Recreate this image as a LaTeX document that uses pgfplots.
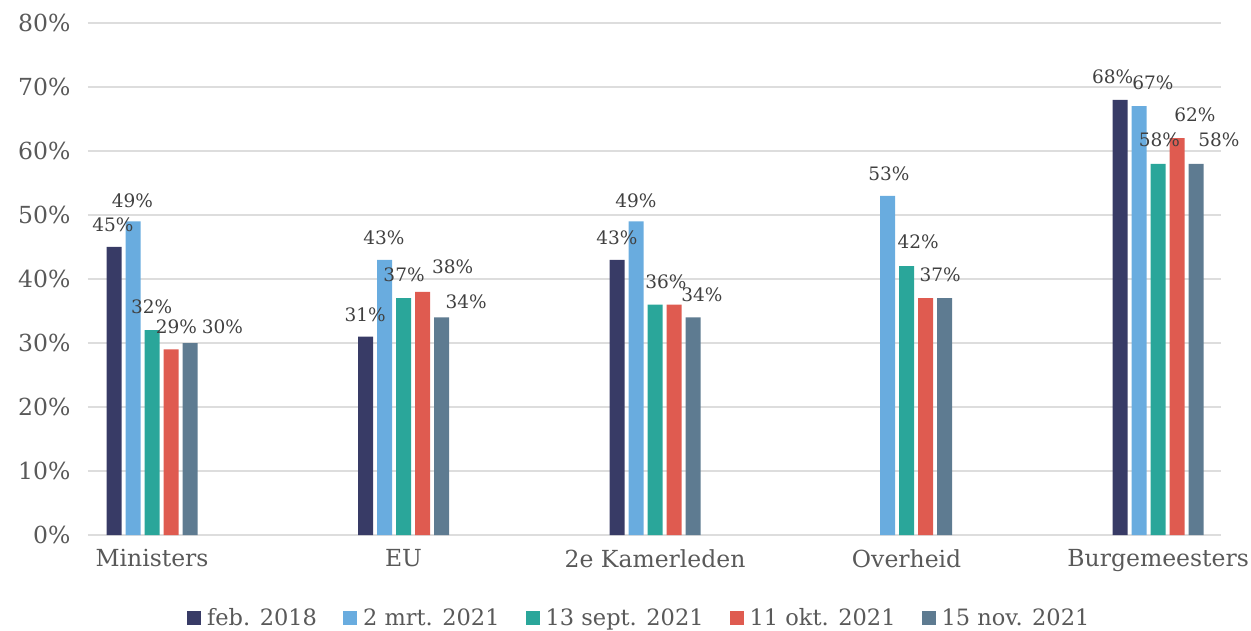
\documentclass[border=0pt]{standalone}
\usepackage{fontspec}
\setmainfont{DejaVu Serif}
\usepackage{pgfplots}
\pgfplotsset{compat=1.18}
\definecolor{cA}{HTML}{383B66}
\definecolor{cB}{HTML}{69ACDF}
\definecolor{cC}{HTML}{2AA69A}
\definecolor{cD}{HTML}{DF5B50}
\definecolor{cE}{HTML}{5E7B91}
\definecolor{gridc}{HTML}{DDDDDD}
\definecolor{txt}{HTML}{595959}
\definecolor{lab}{HTML}{404040}
\begin{document}
\begin{tikzpicture}
\begin{axis}[
  name=ax,
  scale only axis, width=1133bp, height=512bp,
  ybar=4bp, bar width=15bp,
  xmin=-0.2545, xmax=4.25, ymin=0, ymax=80,
  xtick={0,1,2,3,4},
  xticklabels={Ministers,EU,2e Kamerleden,Overheid,Burgemeesters},
  ytick={0,10,...,80},
  yticklabels={0\%,10\%,20\%,30\%,40\%,50\%,60\%,70\%,80\%},
  major tick length=0pt,
  axis line style={draw=none},
  ymajorgrids, grid style={draw=gridc, line width=1.8bp},
  tick label style={font=\fontsize{23.5bp}{27bp}\selectfont, text=txt},
  xticklabel style={yshift=-11bp},
  yticklabel style={xshift=-14bp},
  clip=false,
  legend columns=5,
  legend style={at={(0.487,-0.162)}, anchor=center, draw=none, fill=none,
    font=\fontsize{22.5bp}{26bp}\selectfont, text=txt,
    nodes={inner sep=3bp},
    /tikz/every odd column/.append style={column sep=3bp},
    /tikz/every even column/.append style={column sep=23bp}},
  legend image code/.code={\fill[#1] (0bp,-7bp) rectangle (14bp,7bp);},
]
\addplot[fill=cA, draw=none] coordinates {(0,45) (1,31) (2,43) (4,68)};
\addlegendentry{feb. 2018}
\addplot[fill=cB, draw=none] coordinates {(0,49) (1,43) (2,49) (3,53) (4,67)};
\addlegendentry{2 mrt. 2021}
\addplot[fill=cC, draw=none] coordinates {(0,32) (1,37) (2,36) (3,42) (4,58)};
\addlegendentry{13 sept. 2021}
\addplot[fill=cD, draw=none] coordinates {(0,29) (1,38) (2,36) (3,37) (4,62)};
\addlegendentry{11 okt. 2021}
\addplot[fill=cE, draw=none] coordinates {(0,30) (1,34) (2,34) (3,37) (4,58)};
\addlegendentry{15 nov. 2021}
\tikzset{dl/.style={font=\fontsize{18.5bp}{22bp}\selectfont, text=lab, inner sep=0pt}}
% Ministers
\node[dl] at (axis cs:-0.155,48.4) {45\%};
\node[dl] at (axis cs:-0.0775,52.3) {49\%};
\node[dl] at (axis cs:-0.001,35.6) {32\%};
\node[dl] at (axis cs:0.097,32.5) {29\%};
\node[dl] at (axis cs:0.280,32.5) {30\%};
% EU
\node[dl] at (axis cs:0.847,34.4) {31\%};
\node[dl] at (axis cs:0.922,46.4) {43\%};
\node[dl] at (axis cs:1.002,40.6) {37\%};
\node[dl] at (axis cs:1.195,41.9) {38\%};
\node[dl] at (axis cs:1.249,36.4) {34\%};
% 2e Kamerleden
\node[dl] at (axis cs:1.848,46.4) {43\%};
\node[dl] at (axis cs:1.924,52.3) {49\%};
\node[dl] at (axis cs:2.043,39.6) {36\%};
\node[dl] at (axis cs:2.186,37.5) {34\%};
% Overheid
\node[dl] at (axis cs:2.930,56.5) {53\%};
\node[dl] at (axis cs:3.046,45.8) {42\%};
\node[dl] at (axis cs:3.133,40.6) {37\%};
% Burgemeesters
\node[dl] at (axis cs:3.819,71.6) {68\%};
\node[dl] at (axis cs:3.979,70.6) {67\%};
\node[dl] at (axis cs:4.005,61.7) {58\%};
\node[dl] at (axis cs:4.146,65.6) {62\%};
\node[dl] at (axis cs:4.242,61.7) {58\%};
\end{axis}
\pgfresetboundingbox
\useasboundingbox (ax.south west) ++(-88bp,-96bp) rectangle ++(1251bp,631bp);
\end{tikzpicture}
\end{document}
